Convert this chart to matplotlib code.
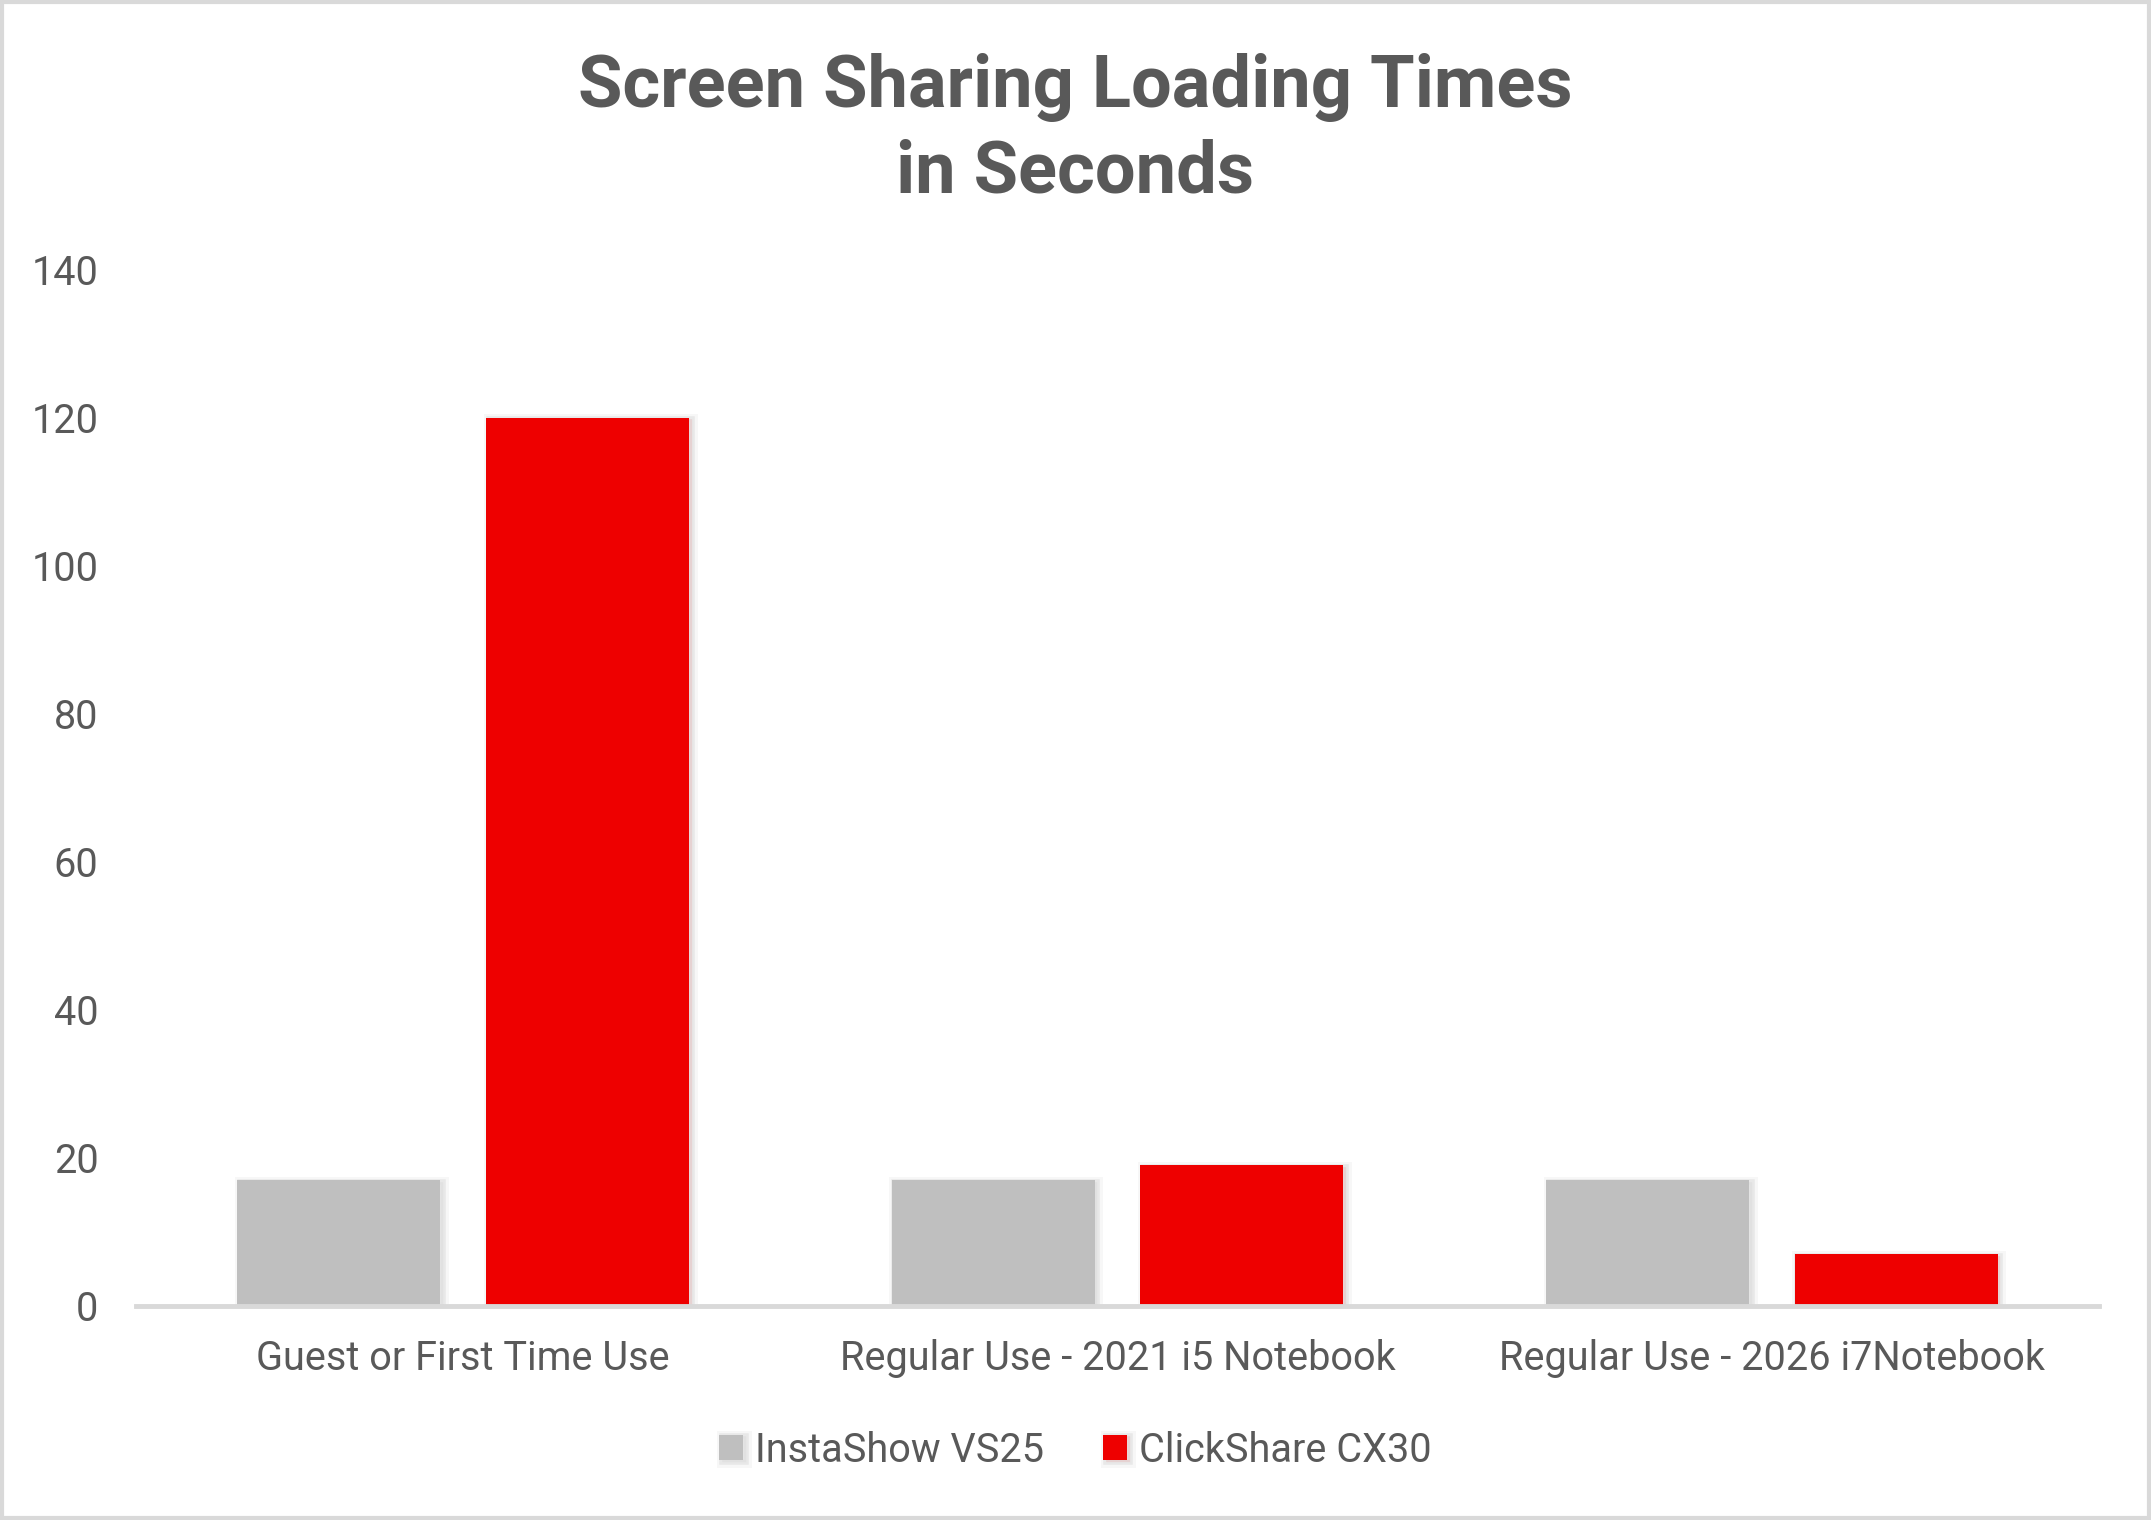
import numpy as np
import matplotlib
matplotlib.use("Agg")
import matplotlib.pyplot as plt
import matplotlib.patheffects as pe
from matplotlib.patches import Rectangle

categories = ["Guest or First Time Use",
              "Regular Use - 2021 i5 Notebook",
              "Regular Use - 2026 i7Notebook"]
instashow = [17, 17, 17]
clickshare = [120, 19, 7]
series_names = ["InstaShow VS25", "ClickShare CX30"]
yticks = [0, 20, 40, 60, 80, 100, 120, 140]

GRAY = "#BFBFBF"
RED = "#EE0000"
TEXT = "#595959"

plt.rcParams['font.family'] = ['Roboto', 'DejaVu Sans']

fig = plt.figure(figsize=(21.51, 15.20), dpi=100)
ax = fig.add_axes([0.0632, 0.1408, 0.9126, 0.6816])

x = np.arange(len(categories))
width = 0.31
offset = 0.19

# soft shadow around bars
glow = [pe.Stroke(linewidth=8, foreground="#000000", alpha=0.03, offset=(2, -1)),
        pe.Stroke(linewidth=4, foreground="#000000", alpha=0.06, offset=(2, -1)),
        pe.Normal()]

b1 = ax.bar(x - offset, instashow, width, color=GRAY, label=series_names[0], zorder=2)
b2 = ax.bar(x + offset, clickshare, width, color=RED, label=series_names[1], zorder=2)
for bar in list(b1) + list(b2):
    bar.set_path_effects(glow)

ax.set_xlim(-0.5, 2.5)
ax.set_ylim(0, 140)
ax.set_yticks(yticks)
ax.set_xticks(x)
ax.set_xticklabels(categories)

for side in ["top", "right", "left"]:
    ax.spines[side].set_visible(False)
ax.spines["bottom"].set_color("#D9D9D9")
ax.spines["bottom"].set_linewidth(3.5)
ax.spines["bottom"].set_zorder(3)

ax.tick_params(axis="both", length=0, labelsize=28.5, colors=TEXT)
ax.tick_params(axis="y", pad=27)
ax.tick_params(axis="x", pad=24)

fig.suptitle("Screen Sharing Loading Times\nin Seconds", x=0.5, y=0.965,
             fontsize=52, fontweight="bold", color=TEXT, linespacing=1.3)

fig.legend(loc="center", bbox_to_anchor=(0.5, 0.046), ncol=2, frameon=False,
           fontsize=28.5, labelcolor=TEXT, handlelength=0.6, handleheight=0.6,
           handletextpad=0.3, columnspacing=1.5)

fig.patches.append(Rectangle((0.001, 0.001), 0.998, 0.998, transform=fig.transFigure,
                             fill=False, edgecolor="#D9D9D9", linewidth=3))

fig.savefig("out.png", dpi=100, facecolor="white")
